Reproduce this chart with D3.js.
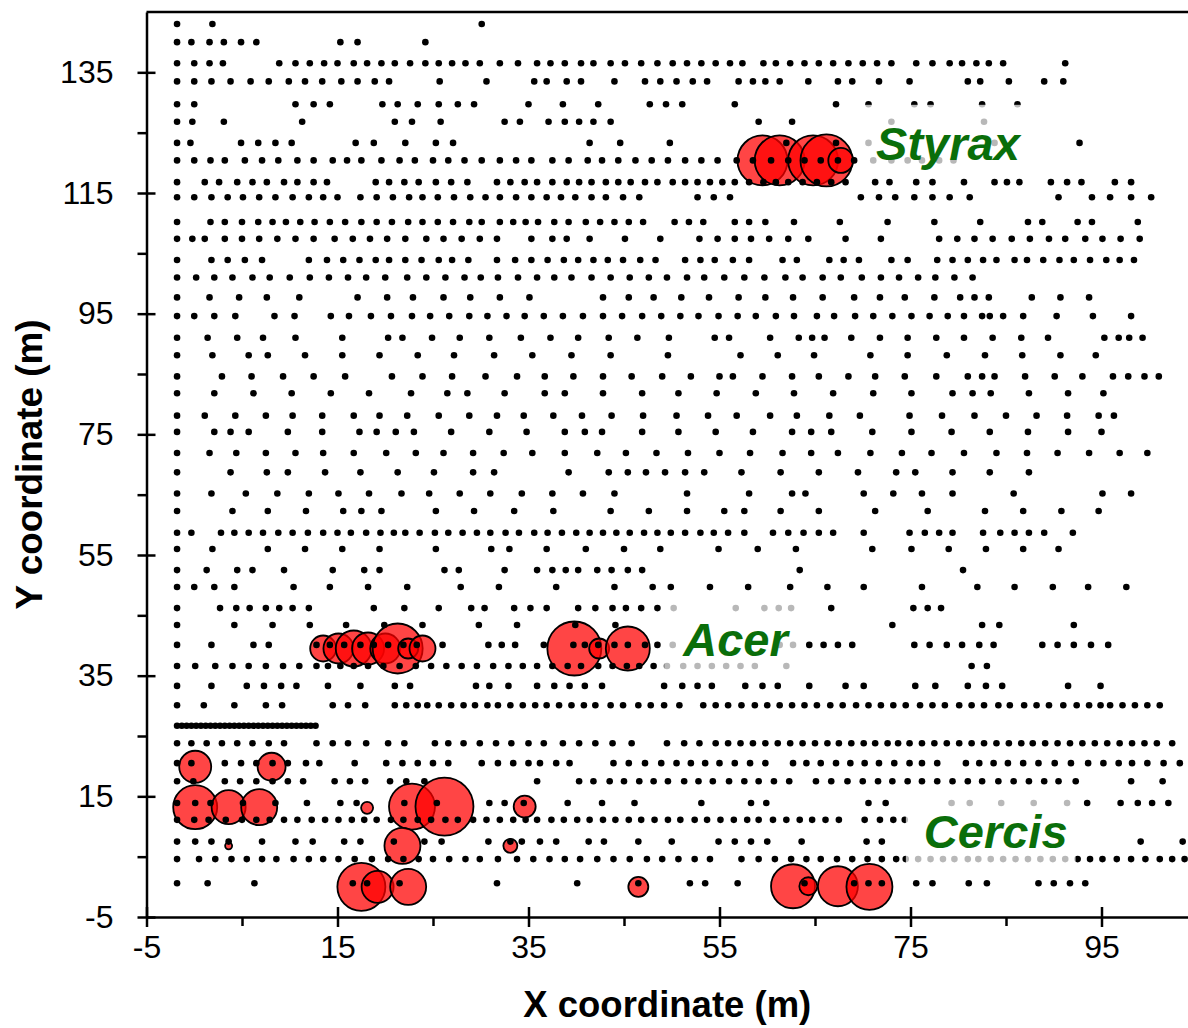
<!DOCTYPE html>
<html lang="en">
<head>
<meta charset="UTF-8">
<title>Seedling map</title>
<script src="https://d3js.org/d3.v7.min.js"></script>
<style>
  body { margin: 0; background: #fff; }
  svg text { font-family: "Liberation Sans", Arial, sans-serif; }
</style>
</head>
<body>
<div id="chart"></div>
<script>
// y of every survey row (m)
var rowY = [143.0, 140.0, 136.5, 133.5, 129.7, 126.8, 123.3, 120.4, 116.8, 114.3, 110.2, 107.4,
            103.9, 101.0, 97.7, 94.6, 91.0, 88.1, 84.6, 81.8, 78.1, 75.4, 71.9, 68.7, 65.2, 62.3,
            58.7, 56.0, 52.5, 49.7, 46.2, 43.4, 40.1, 36.6, 33.3, 30.1, 26.7, 23.8, 20.5, 17.5,
            13.9, 11.1, 7.5, 4.6, 0.6];

// x of the points found in each row (m), same order as rowY
var rowX = [
  [-1.8, 1.9, 30.1],
  [-1.8, -0.3, 1.6, 3.1, 4.9, 6.5, 15.3, 17.1, 24.2],
  [-1.8, 0.0, 1.6, 3.0, 8.9, 10.6, 12.1, 13.6, 15.0, 16.7, 18.1, 19.6, 21.0, 22.6, 24.2, 25.6, 27.0, 28.4, 29.9, 32.0, 33.9, 35.9, 37.3, 38.8, 40.5, 41.8, 43.6, 45.1, 46.8, 48.5, 50.1, 51.6, 53.1, 54.6, 56.1, 57.4, 59.6, 60.9, 62.4, 63.9, 65.4, 66.9, 68.5, 70.0, 71.5, 73.0, 75.6, 77.3, 79.1, 80.4, 81.9, 83.2, 84.7, 91.2],
  [-1.8, 0.0, 1.8, 3.8, 5.9, 7.8, 9.9, 11.6, 13.4, 15.4, 17.1, 18.9, 20.4, 25.7, 30.6, 35.6, 36.9, 39.0, 40.5, 44.0, 47.2, 48.8, 50.5, 52.2, 53.7, 57.0, 58.5, 59.8, 61.3, 64.3, 67.4, 68.9, 71.7, 74.9, 81.0, 82.3, 85.3, 89.0, 91.0],
  [-1.8, 0.0, 10.6, 12.5, 14.2, 19.7, 21.3, 23.4, 25.6, 27.6, 29.3, 35.0, 38.6, 42.3, 47.7, 49.4, 51.1, 56.6, 67.2, 70.6, 75.4, 77.1, 82.5, 86.2],
  [-1.8, -0.2, 3.1, 11.3, 21.0, 22.8, 25.8, 32.5, 34.1, 37.1, 38.8, 40.3, 41.8, 43.6, 59.1, 62.6, 73.0, 82.7],
  [-1.8, -0.4, 4.9, 6.7, 8.5, 10.2, 16.9, 18.8, 22.1, 25.3, 27.1, 41.4, 44.6, 49.8, 62.0, 67.2, 70.6, 83.8, 92.7],
  [-1.8, 0.0, 1.7, 3.2, 5.3, 7.1, 8.8, 10.8, 12.5, 14.5, 16.0, 17.5, 19.6, 21.5, 23.1, 25.0, 26.6, 28.3, 30.1, 32.0, 33.7, 35.3, 37.5, 39.2, 41.2, 42.7, 44.4, 46.2, 47.9, 49.6, 51.4, 53.1, 54.8, 56.8, 58.5, 60.4, 62.2, 63.9, 65.6, 67.4, 69.1, 71.1, 73.0, 74.7, 76.2, 78.0, 79.5],
  [-1.8, 1.1, 2.6, 4.5, 6.1, 7.6, 9.4, 10.8, 12.5, 13.9, 19.0, 20.4, 22.0, 23.5, 25.3, 26.9, 28.6, 31.7, 33.1, 34.6, 35.9, 37.5, 39.0, 40.3, 41.6, 43.1, 44.4, 45.7, 47.2, 48.5, 50.1, 51.4, 52.7, 54.0, 55.3, 56.6, 58.1, 59.6, 60.9, 62.2, 63.7, 65.2, 66.7, 68.2, 71.3, 72.8, 75.6, 77.3, 80.6, 83.8, 85.1, 86.4, 89.7, 91.4, 92.9, 96.4, 98.1],
  [-1.8, 0.0, 1.8, 3.5, 5.1, 6.8, 8.5, 10.3, 12.0, 13.5, 15.0, 17.4, 19.1, 20.8, 22.5, 23.9, 25.5, 27.2, 28.9, 30.5, 32.0, 33.7, 35.3, 36.9, 38.4, 39.9, 41.6, 43.1, 44.9, 46.6, 52.7, 54.4, 56.1, 69.8, 71.7, 73.4, 75.4, 77.3, 79.1, 81.2, 90.5, 94.0, 95.9, 98.1, 100.2],
  [-1.8, 1.7, 3.2, 5.0, 6.7, 8.2, 9.6, 11.1, 12.6, 14.2, 15.8, 17.5, 19.1, 20.7, 22.4, 23.9, 25.5, 27.1, 28.8, 30.1, 32.0, 33.4, 34.7, 36.0, 37.7, 39.2, 41.0, 42.5, 44.0, 45.5, 47.0, 50.3, 51.8, 53.3, 56.6, 58.1, 59.8, 62.8, 67.6, 72.6, 77.5, 82.3, 87.3, 88.8, 92.5, 94.0, 98.8],
  [-1.8, -0.2, 1.1, 3.2, 5.0, 6.8, 8.7, 10.6, 12.5, 14.7, 16.6, 18.4, 20.2, 22.1, 24.3, 26.1, 28.0, 29.9, 31.7, 35.3, 37.5, 39.0, 41.4, 45.1, 48.8, 52.9, 54.8, 56.6, 58.3, 60.2, 62.2, 64.3, 68.2, 71.9, 78.0, 79.9, 81.7, 83.6, 85.6, 87.5, 89.5, 91.2, 93.3, 95.1, 97.0, 99.0],
  [-1.8, 1.8, 3.5, 5.3, 7.1, 12.0, 13.9, 15.6, 17.3, 19.0, 20.4, 22.1, 23.8, 25.6, 27.0, 28.7, 31.7, 33.6, 35.3, 37.0, 38.7, 40.2, 41.8, 43.3, 44.9, 46.7, 48.3, 51.4, 53.0, 54.5, 56.4, 58.1, 61.6, 63.1, 66.5, 68.0, 69.6, 73.0, 74.7, 77.8, 79.4, 81.0, 82.6, 84.0, 85.9, 87.2, 88.9, 90.6, 92.1, 93.8, 95.5, 96.9, 98.4],
  [-1.8, 0.2, 2.1, 4.0, 6.1, 7.9, 10.0, 12.1, 14.1, 16.1, 18.0, 20.0, 22.3, 24.3, 26.3, 28.3, 30.0, 31.8, 33.9, 35.9, 37.7, 39.5, 41.6, 43.6, 45.6, 47.6, 49.5, 51.6, 53.4, 55.5, 57.6, 59.7, 61.9, 63.7, 65.8, 67.7, 69.9, 71.9, 73.8, 75.8, 77.6, 79.6, 81.5],
  [-1.8, 1.6, 4.7, 7.6, 11.0, 17.1, 20.2, 22.9, 26.1, 28.9, 32.0, 35.1, 42.8, 45.5, 48.1, 51.0, 53.9, 57.0, 59.8, 62.7, 65.8, 69.1, 71.8, 74.4, 77.5, 80.2, 81.7, 83.2, 87.7, 90.7, 93.7],
  [-1.8, 0.0, 2.1, 4.3, 8.4, 10.5, 14.3, 16.2, 18.5, 20.6, 22.8, 24.7, 26.7, 28.8, 30.7, 32.7, 34.6, 36.6, 38.6, 40.7, 42.8, 44.8, 46.9, 48.9, 50.9, 52.8, 54.9, 56.9, 58.8, 60.9, 62.8, 65.2, 67.0, 69.2, 71.1, 73.1, 75.1, 77.0, 78.9, 80.6, 82.5, 83.3, 84.7, 86.8, 90.3, 94.1, 98.1],
  [-1.8, 1.4, 4.5, 7.2, 10.6, 15.5, 20.3, 21.8, 24.9, 27.8, 30.9, 34.2, 37.3, 40.2, 43.4, 46.4, 49.7, 54.5, 56.0, 60.3, 63.3, 64.7, 66.0, 68.8, 71.8, 74.7, 77.7, 80.6, 83.6, 86.6, 89.4, 95.3, 96.8, 97.9, 99.3],
  [-1.8, 1.9, 5.7, 7.7, 11.6, 15.5, 19.4, 23.4, 27.2, 31.4, 35.4, 39.5, 43.6, 49.6, 57.2, 61.1, 64.9, 70.8, 74.7, 78.8, 82.8, 86.7, 90.7, 94.4],
  [-1.8, 2.9, 6.0, 9.3, 12.5, 15.8, 20.7, 23.9, 27.0, 30.5, 33.8, 36.7, 39.7, 42.8, 45.8, 49.0, 52.0, 55.0, 56.4, 59.5, 62.6, 65.4, 68.5, 71.3, 74.4, 77.7, 81.0, 82.5, 83.8, 87.0, 90.1, 93.0, 96.2, 97.8, 99.5, 101.0],
  [-1.8, 2.1, 6.2, 10.2, 14.3, 18.3, 22.7, 26.5, 28.6, 32.5, 36.7, 38.8, 42.8, 46.9, 50.7, 54.7, 58.8, 62.8, 66.9, 71.1, 75.1, 79.4, 81.5, 83.4, 87.4, 91.5, 95.2],
  [-1.8, 1.1, 4.3, 7.5, 10.3, 13.4, 16.7, 19.4, 22.3, 25.6, 28.8, 31.7, 34.5, 37.6, 40.6, 43.7, 47.0, 50.5, 53.8, 56.8, 60.3, 63.1, 66.5, 69.7, 74.9, 78.3, 81.7, 85.0, 88.2, 91.4, 94.7, 96.3],
  [-1.8, 2.1, 3.8, 5.7, 9.8, 13.4, 17.3, 19.1, 21.1, 23.0, 26.9, 30.9, 34.8, 38.8, 40.9, 42.7, 46.9, 50.7, 54.6, 58.5, 62.6, 64.6, 66.7, 71.0, 75.1, 79.3, 83.3, 87.3, 91.5, 95.0],
  [-1.8, 1.6, 4.4, 7.5, 10.6, 13.5, 16.7, 20.1, 23.2, 26.1, 29.2, 32.4, 35.4, 38.8, 42.2, 45.2, 48.4, 51.7, 55.0, 58.2, 61.6, 64.6, 67.4, 70.8, 74.1, 77.2, 80.6, 84.0, 87.2, 90.4, 93.7, 96.9, 99.8],
  [-1.8, 3.8, 7.6, 9.8, 13.7, 17.4, 21.3, 25.1, 29.2, 31.4, 39.2, 43.4, 45.4, 47.3, 49.3, 51.4, 53.4, 57.3, 61.4, 65.4, 69.5, 73.5, 75.5, 79.4, 83.3, 87.4],
  [-1.8, 1.8, 5.4, 8.7, 12.0, 15.1, 18.3, 21.7, 24.6, 27.8, 31.0, 34.3, 37.5, 40.7, 44.0, 51.6, 58.1, 62.6, 64.0, 70.1, 73.2, 76.2, 79.4, 85.8, 95.1, 98.1],
  [-1.8, 4.0, 7.7, 11.7, 15.6, 17.5, 19.6, 25.3, 29.3, 33.5, 37.6, 43.6, 47.6, 51.6, 55.5, 57.6, 61.4, 65.4, 71.3, 76.8, 82.8, 86.8, 90.8, 94.7],
  [-1.8, -0.3, 2.8, 4.2, 5.7, 7.2, 8.8, 10.3, 11.9, 13.5, 15.0, 16.4, 18.0, 19.5, 20.9, 22.1, 23.6, 25.2, 26.6, 28.1, 29.6, 31.0, 32.6, 34.0, 35.6, 37.0, 38.5, 40.0, 41.4, 42.8, 44.2, 45.6, 47.1, 48.5, 49.9, 51.4, 53.0, 54.4, 55.9, 57.6, 60.6, 62.2, 63.8, 65.4, 66.9, 70.1, 74.9, 76.5, 78.0, 79.4, 82.6, 84.4, 85.9, 87.4, 89.0, 92.0],
  [-1.8, 1.9, 7.7, 11.6, 15.5, 19.4, 25.3, 31.1, 33.0, 36.9, 41.0, 45.0, 48.8, 54.9, 59.0, 63.0, 71.0, 75.1, 79.0, 82.9, 86.8, 90.5],
  [-1.8, 1.3, 4.5, 6.1, 9.4, 14.5, 17.8, 19.4, 26.2, 27.7, 32.5, 35.9, 37.5, 38.9, 40.2, 42.2, 43.7, 45.4, 46.9, 63.4, 80.5],
  [-1.8, 0.0, 2.1, 4.2, 10.4, 14.2, 18.2, 22.3, 27.9, 31.9, 37.9, 44.0, 48.0, 49.9, 54.0, 58.0, 62.4, 66.3, 70.1, 76.2, 82.0, 85.9, 89.9, 93.6, 97.6],
  [-1.8, 2.7, 4.4, 5.8, 7.5, 8.9, 10.3, 12.0, 18.8, 22.0, 25.6, 29.0, 30.4, 33.5, 35.2, 36.9, 40.2, 42.0, 43.8, 45.2, 46.8, 48.5, 50.2, 56.7, 59.7, 61.2, 62.5, 66.7, 75.3, 76.8, 78.2],
  [-1.8, 4.2, 8.2, 12.1, 15.9, 19.9, 23.9, 29.8, 33.8, 39.9, 44.1, 73.1, 82.5, 84.3, 92.1],
  [-1.8, 1.8, 6.2, 7.8, 12.8, 14.2, 15.7, 17.4, 18.8, 20.3, 21.9, 23.3, 26.0, 30.8, 32.2, 33.6, 36.6, 39.7, 40.9, 42.3, 44.0, 45.4, 47.2, 48.5, 50.1, 61.3, 62.7, 64.4, 65.9, 67.4, 68.9, 75.4, 77.0, 78.8, 80.4, 82.2, 83.7, 88.8, 90.4, 92.1, 93.9, 95.7],
  [-1.8, 0.1, 2.2, 4.0, 5.7, 7.5, 9.3, 11.0, 12.8, 14.0, 15.3, 16.7, 18.2, 19.8, 21.5, 23.2, 24.8, 26.4, 28.0, 29.6, 31.3, 32.9, 34.4, 35.9, 37.5, 39.1, 40.5, 42.3, 43.8, 45.3, 46.6, 48.1, 49.5, 51.2, 52.7, 54.2, 55.7, 57.2, 58.7, 62.0, 81.4, 83.0],
  [-1.8, 1.8, 5.5, 7.3, 9.1, 10.7, 14.0, 17.4, 21.0, 22.6, 29.5, 30.9, 32.9, 35.9, 37.7, 39.3, 40.9, 42.7, 49.2, 51.1, 52.7, 54.2, 57.7, 59.5, 61.1, 64.4, 68.2, 70.1, 75.5, 77.6, 81.0, 82.9, 84.6, 91.5, 94.9],
  [-1.8, 1.0, 4.2, 7.5, 9.2, 14.5, 16.1, 17.9, 21.0, 22.2, 23.4, 24.4, 25.6, 26.9, 28.2, 29.4, 30.7, 31.8, 33.1, 34.4, 35.7, 36.9, 38.2, 39.5, 40.8, 42.0, 43.6, 44.9, 46.5, 47.8, 49.2, 50.8, 53.3, 54.6, 55.9, 57.3, 58.7, 60.0, 61.3, 62.6, 63.9, 65.2, 66.6, 67.9, 69.3, 70.6, 71.9, 73.2, 74.5, 76.0, 77.3, 78.6, 80.1, 81.4, 82.7, 84.2, 85.4, 86.9, 88.2, 89.5, 91.0, 92.4, 93.7, 94.9, 95.9, 97.2, 98.5, 99.8, 101.1],
  [-1.8, -1.3, -0.8, -0.3, 0.2, 0.7, 1.2, 1.7, 2.2, 2.7, 3.2, 3.7, 4.2, 4.7, 5.2, 5.7, 6.2, 6.7, 7.2, 7.7, 8.2, 8.7, 9.2, 9.7, 10.2, 10.7, 11.2, 11.7, 12.2, 12.7],
  [-1.8, -0.3, 1.3, 2.9, 4.5, 6.1, 7.8, 9.4, 12.8, 14.5, 16.1, 18.0, 20.3, 22.0, 25.2, 26.6, 28.2, 29.9, 31.6, 33.2, 35.0, 36.6, 38.6, 40.3, 42.0, 43.8, 45.8, 49.5, 51.3, 52.9, 54.6, 55.9, 57.2, 58.5, 59.8, 61.1, 62.4, 63.7, 65.0, 66.3, 67.5, 68.8, 70.1, 71.3, 72.6, 73.7, 74.9, 76.2, 77.5, 78.8, 80.1, 81.4, 82.7, 84.0, 85.3, 86.6, 87.8, 89.1, 90.4, 91.7, 93.0, 94.3, 95.6, 96.9, 98.2, 99.5, 100.8, 102.4],
  [-1.8, -0.3, 3.2, 4.9, 6.5, 8.2, 9.8, 11.7, 13.1, 16.8, 20.1, 21.8, 23.4, 25.0, 26.6, 30.1, 31.8, 33.4, 35.0, 36.2, 37.9, 39.3, 43.9, 45.5, 47.2, 48.9, 50.5, 52.0, 53.5, 55.0, 56.6, 58.2, 59.8, 62.7, 64.1, 65.6, 67.2, 68.7, 70.2, 71.7, 73.3, 74.9, 76.2, 77.8, 80.8, 82.2, 83.7, 85.2, 86.8, 88.4, 90.1, 91.8, 93.6, 95.2, 96.8, 98.2, 99.8, 101.5, 103.2],
  [-1.8, -0.1, 3.2, 4.8, 6.5, 8.2, 9.8, 11.4, 14.7, 16.3, 17.9, 20.5, 22.2, 24.1, 35.9, 40.3, 41.8, 43.5, 45.0, 46.6, 48.1, 49.6, 51.3, 52.8, 54.3, 56.0, 57.6, 59.1, 60.7, 62.3, 65.1, 66.7, 68.4, 70.0, 71.6, 73.1, 74.7, 76.2, 77.8, 79.4, 81.0, 82.5, 84.2, 85.8, 87.4, 89.0, 90.5, 92.3, 98.1, 101.4],
  [-1.8, 0.1, 1.7, 5.1, 8.5, 11.8, 15.3, 17.0, 22.0, 25.4, 30.9, 32.5, 34.5, 39.1, 42.7, 46.1, 53.1, 58.3, 59.9, 70.6, 72.4, 79.3, 81.2, 84.5, 87.9, 91.4, 93.5, 97.0, 98.8, 100.3, 102.0],
  [-1.8, 0.0, 1.5, 3.3, 5.0, 6.5, 7.9, 9.4, 10.8, 12.3, 13.7, 15.1, 16.5, 17.8, 19.1, 20.6, 21.9, 23.4, 24.8, 26.3, 27.6, 29.2, 30.6, 32.0, 33.4, 34.7, 35.9, 37.4, 38.7, 40.1, 41.4, 42.8, 44.1, 45.5, 46.8, 48.2, 49.6, 50.9, 52.4, 53.7, 55.1, 56.5, 57.9, 59.1, 60.6, 62.0, 63.4, 64.7, 66.1, 67.5, 70.2, 71.8, 73.2, 74.4],
  [-1.8, 0.1, 1.8, 3.6, 7.1, 10.6, 12.4, 15.7, 17.4, 20.9, 24.1, 25.9, 30.8, 33.1, 34.3, 36.2, 37.9, 41.3, 42.9, 46.5, 50.0, 54.9, 56.6, 58.3, 60.0, 63.6, 70.4, 72.0, 99.1, 103.5],
  [-1.8, 0.5, 2.2, 3.9, 5.5, 7.1, 8.6, 10.4, 12.0, 13.5, 15.1, 16.8, 18.6, 20.3, 21.9, 23.5, 25.0, 26.7, 28.4, 29.9, 31.8, 33.8, 35.5, 37.2, 38.8, 40.4, 42.2, 43.9, 45.6, 47.4, 49.0, 50.7, 52.4, 54.0, 57.3, 59.1, 60.8, 62.5, 64.1, 65.6, 67.3, 68.9, 70.5, 72.0, 73.5, 74.5, 75.8, 77.1, 78.4, 79.6, 81.0, 82.1, 83.4, 84.7, 86.0, 87.3, 88.6, 89.9, 91.2, 92.5, 93.8, 95.1, 96.6, 98.1, 99.6, 101.1, 102.4, 103.7],
  [-1.8, 1.4, 6.3, 16.6, 18.1, 21.5, 31.7, 40.1, 46.5, 51.9, 53.5, 56.9, 63.9, 69.1, 70.6, 72.0, 75.6, 77.3, 81.1, 83.0, 88.4, 90.0, 91.7, 93.3]
];

// trees of the three species: position (m) and stem diameter
var treeX = [59.5, 61.3, 64.8, 66.2, 67.7,
             13.5, 15.1, 16.7, 18.2, 20.0, 21.3, 22.4, 23.9, 39.8, 42.4, 45.4,
             0.1, 8.1, 0.1, 3.6, 6.8, 18.1, 22.8, 26.2, 34.6, 3.6, 21.8, 33.1, 17.5, 19.2, 22.4, 46.5, 62.7, 64.3, 67.4, 70.7];
var treeY = [120.4, 120.4, 120.4, 120.4, 120.4,
             39.5, 39.5, 39.5, 39.5, 39.5, 39.5, 39.5, 39.5, 39.5, 39.5, 39.5,
             19.9, 19.9, 13.2, 13.2, 13.2, 13.1, 13.3, 13.3, 13.3, 6.8, 6.8, 6.8, 0.0, 0.0, 0.0, 0.0, 0.1, 0.1, 0.1, 0.0];
var treeDbh = [50, 50, 50, 52, 25,
               26, 30, 36, 32, 30, 50, 20, 26, 54, 20, 44,
               32, 28, 44, 34, 36, 12, 46, 58, 22, 7, 36, 14, 48, 32, 36, 20, 44, 18, 40, 46];

var speciesNames = ["Styrax", "Acer", "Cercis"];
var speciesX = [71.4, 51.2, 76.4];
var speciesY = [120.5, 38.3, 6.4];

var xTicks = [-5, 15, 35, 55, 75, 95];
var xMinor = [5, 25, 45, 65, 85];
var yTicks = [-5, 15, 35, 55, 75, 95, 115, 135];
var yMinor = [5, 25, 45, 65, 85, 105, 125];

var width = 1188, height = 1028;
var plotLeft = 146.5, plotTop = 12, plotBottom = 917, plotRight = 1197;

var svg = d3.select("#chart").append("svg")
    .attr("width", width)
    .attr("height", height)
    .style("display", "block");

svg.append("rect").attr("width", width).attr("height", height).attr("fill", "#fff");

var x = d3.scaleLinear().domain([-5, 105]).range([plotLeft, plotRight]);
var y = d3.scaleLinear().domain([-5, 145]).range([plotBottom, plotTop]);
var r = d3.scaleLinear().domain([0, 100]).range([0, 50]);

// trees first, survey points drawn over them
svg.append("g").selectAll("circle")
    .data(treeX)
    .join("circle")
    .attr("cx", function(d) { return x(d); })
    .attr("cy", function(d, i) { return y(treeY[i]); })
    .attr("r", function(d, i) { return r(treeDbh[i]); })
    .attr("fill", "rgba(255,0,0,0.73)")
    .attr("stroke", "#000")
    .attr("stroke-width", 1.8);

var points = [];
rowY.forEach(function(ry, i) {
  rowX[i].forEach(function(rx) { points.push([rx, ry]); });
});

svg.append("g").selectAll("circle")
    .data(points)
    .join("circle")
    .attr("cx", function(d) { return x(d[0]); })
    .attr("cy", function(d) { return y(d[1]); })
    .attr("r", 3.3)
    .attr("fill", "#000");

// species labels on a half transparent white box
var labels = svg.append("g");
speciesNames.forEach(function(name, i) {
  var box = labels.append("rect").attr("fill", "#fff").attr("fill-opacity", 0.72);
  var t = labels.append("text")
      .attr("x", x(speciesX[i]))
      .attr("y", y(speciesY[i]))
      .attr("fill", "#0a6e0a")
      .attr("font-size", 47)
      .attr("font-weight", "bold")
      .attr("font-style", "italic")
      .text(name);
  var bb = t.node().getBBox();
  box.attr("x", bb.x - 18).attr("y", bb.y - 12)
     .attr("width", bb.width + 26).attr("height", bb.height + 17);
});

// axes
function plain(d) { return String(d); }

var yAxis = svg.append("g")
    .attr("transform", "translate(" + plotLeft + ",0)")
    .call(d3.axisLeft(y).tickValues(yTicks).tickFormat(plain)
          .tickSizeInner(9).tickSizeOuter(0).tickPadding(24));
yAxis.selectAll(".tick line").attr("x1", 9);

svg.append("g")
    .attr("transform", "translate(" + plotLeft + ",0)")
    .call(d3.axisLeft(y).tickValues(yMinor).tickSize(9).tickFormat(""))
    .select(".domain").remove();

var xAxis = svg.append("g")
    .attr("transform", "translate(0," + plotBottom + ")")
    .call(d3.axisBottom(x).tickValues(xTicks).tickFormat(plain)
          .tickSizeInner(10).tickSizeOuter(0).tickPadding(8));
xAxis.selectAll(".tick line").attr("y1", -10);

svg.append("g")
    .attr("transform", "translate(0," + plotBottom + ")")
    .call(d3.axisBottom(x).tickValues(xMinor).tickSize(9).tickFormat(""))
    .select(".domain").remove();

svg.selectAll(".domain, .tick line").attr("stroke", "#000").attr("stroke-width", 2.5);
svg.selectAll(".tick text")
    .attr("font-family", "Liberation Sans, Arial, sans-serif")
    .attr("font-size", 32)
    .attr("fill", "#000");

// top frame line
svg.append("line")
    .attr("x1", plotLeft).attr("x2", plotRight)
    .attr("y1", plotTop).attr("y2", plotTop)
    .attr("stroke", "#000").attr("stroke-width", 2.5);

svg.append("text")
    .attr("x", (plotLeft + width) / 2)
    .attr("y", 1017)
    .attr("text-anchor", "middle")
    .attr("font-size", 36)
    .attr("font-weight", "bold")
    .attr("textLength", 288)
    .attr("lengthAdjust", "spacingAndGlyphs")
    .text("X coordinate (m)");

svg.append("text")
    .attr("transform", "translate(42," + (plotTop + plotBottom) / 2 + ") rotate(-90)")
    .attr("text-anchor", "middle")
    .attr("font-size", 36)
    .attr("font-weight", "bold")
    .attr("textLength", 290)
    .attr("lengthAdjust", "spacingAndGlyphs")
    .text("Y coordinate (m)");
</script>
</body>
</html>
